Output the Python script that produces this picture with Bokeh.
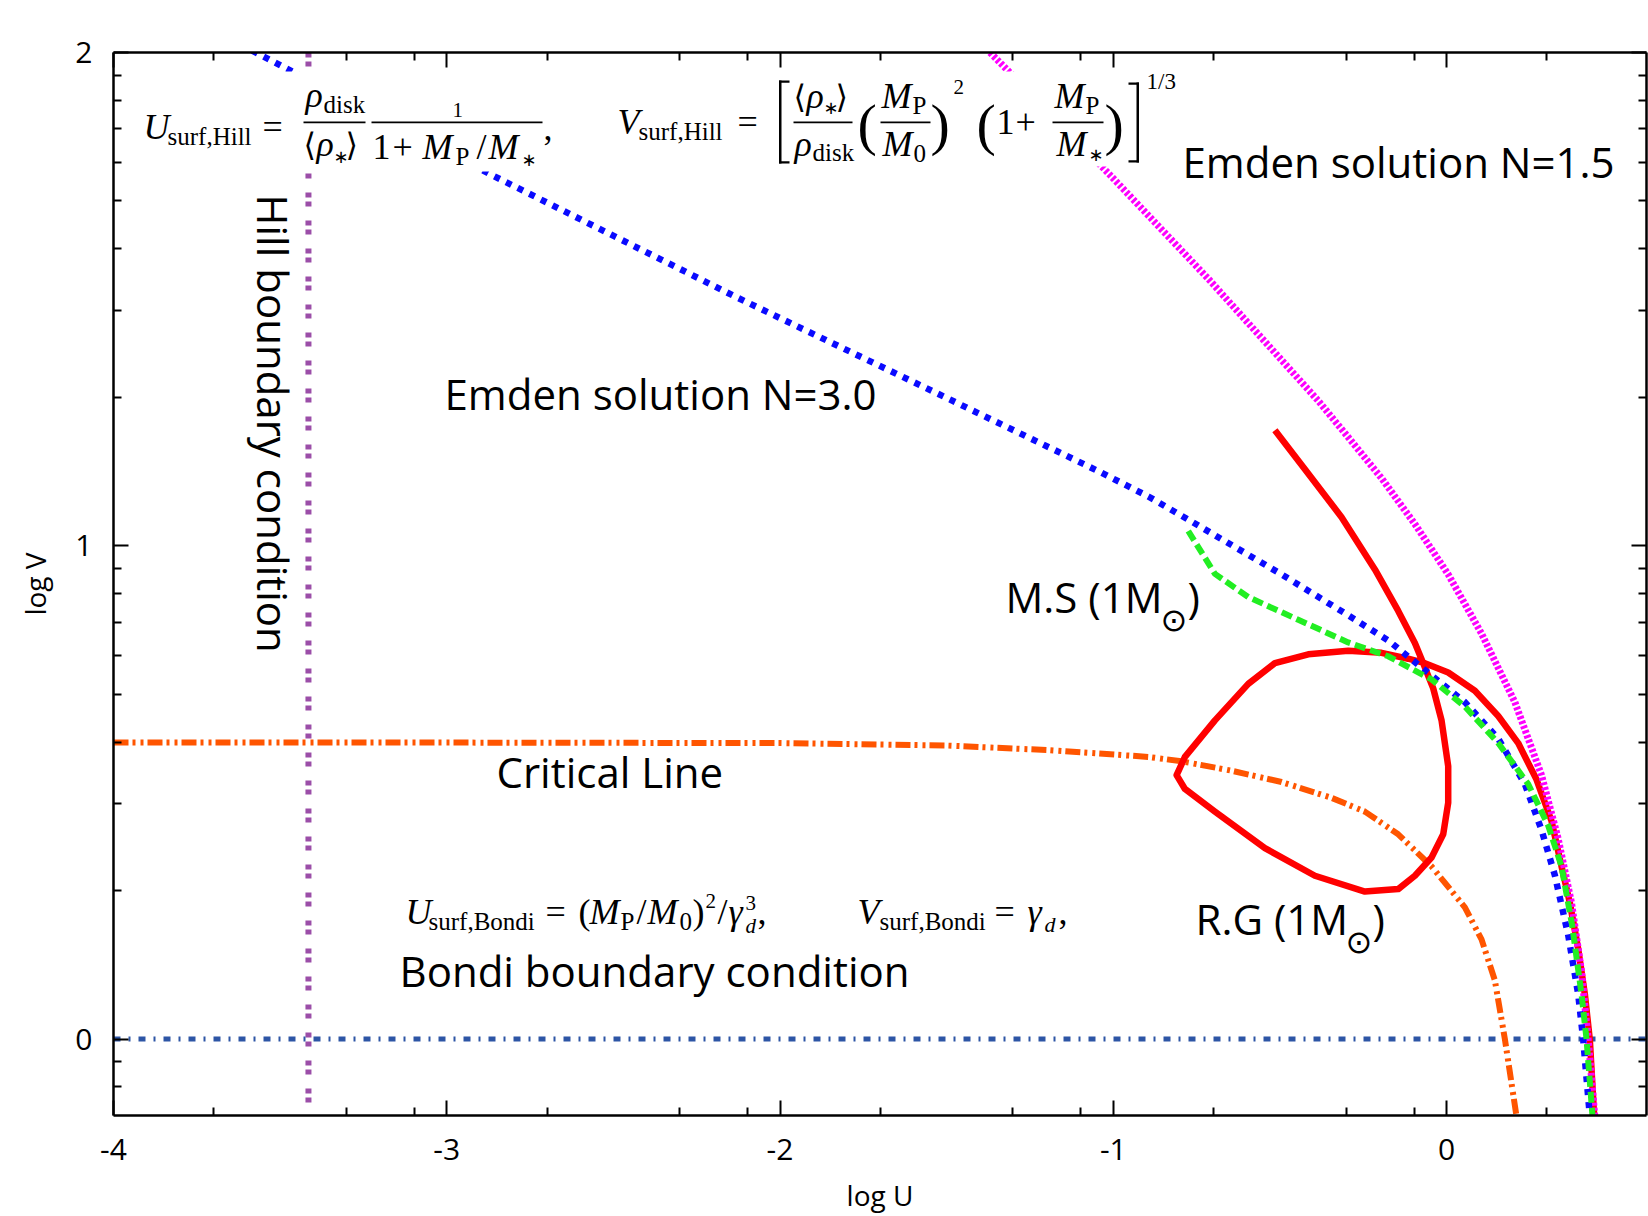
import math
from bokeh.plotting import figure
from bokeh.models import Range1d, FixedTicker, LinearAxis, Label, BoxAnnotation, Span
from bokeh.embed import file_html
from bokeh.resources import INLINE

# ---------------- data ----------------
x_ticks = [-4, -3, -2, -1, 0]
x_tick_labels = ["-4", "-3", "-2", "-1", "0"]
x_minor_ticks = [-3.699, -3.301, -3.097, -2.699, -2.301, -2.097, -1.699, -1.301, -1.097,
                 -0.699, -0.301, -0.097, 0.301]
y_ticks = [0, 1, 2]
y_tick_labels = ["0", "1", "2"]
y_minor_ticks = [-0.097, -0.046, 0.301, 0.477, 0.602, 0.699, 0.778, 0.845, 0.903, 0.954,
                 1.301, 1.477, 1.602, 1.699, 1.778, 1.845, 1.903, 1.954]

X_MIN, X_MAX = -4.0, 0.6
Y_MIN, Y_MAX = -0.155, 2.0

emden3_logU = [-3.584, -2.875, -2.134, -1.504, -1.041, -0.895, -0.775, -0.495, -0.295, -0.175,
               -0.065, 0.055, 0.155, 0.235, 0.285, 0.325, 0.365, 0.395, 0.410, 0.430]
emden3_logV = [2.004, 1.755, 1.505, 1.301, 1.150, 1.100, 1.053, 0.942, 0.859, 0.808,
               0.748, 0.683, 0.609, 0.517, 0.424, 0.332, 0.211, 0.091, 0.000, -0.157]

emden15_logU = [-1.370, -1.188, -0.999, -0.716, -0.385, -0.295, -0.195, -0.095, 0.005, 0.105,
                0.205, 0.285, 0.335, 0.375, 0.405, 0.425, 0.445]
emden15_logV = [2.000, 1.876, 1.744, 1.542, 1.294, 1.220, 1.137, 1.044, 0.942, 0.822,
                0.683, 0.535, 0.406, 0.276, 0.137, 0.000, -0.157]

ms_logU = [-0.775, -0.695, -0.595, -0.445, -0.295, -0.175, -0.045, 0.055, 0.155, 0.245,
           0.305, 0.345, 0.377, 0.405, 0.420, 0.438]
ms_logV = [1.030, 0.943, 0.896, 0.850, 0.804, 0.776, 0.729, 0.674, 0.600, 0.517,
           0.433, 0.350, 0.230, 0.091, 0.000, -0.157]

rg_logU = [-0.515, -0.425, -0.315, -0.215, -0.145, -0.095, -0.070, -0.040, -0.015, 0.005,
           0.005, -0.010, -0.045, -0.095, -0.145, -0.245, -0.395, -0.545, -0.695, -0.785,
           -0.810, -0.785, -0.695, -0.595, -0.515, -0.415, -0.295, -0.195, -0.115, -0.065,
           0.005, 0.085, 0.155, 0.215, 0.270, 0.315, 0.345, 0.370, 0.395, 0.415,
           0.430, 0.443]
rg_logV = [1.234, 1.155, 1.058, 0.952, 0.868, 0.803, 0.762, 0.711, 0.646, 0.553,
           0.479, 0.415, 0.368, 0.331, 0.304, 0.299, 0.331, 0.387, 0.461, 0.507,
           0.535, 0.572, 0.646, 0.720, 0.762, 0.780, 0.787, 0.783, 0.771, 0.762,
           0.743, 0.706, 0.655, 0.600, 0.526, 0.442, 0.350, 0.276, 0.183, 0.091,
           -0.002, -0.157]

critical_logU = [-4.0, -3.0, -2.0, -1.5, -1.2, -0.895, -0.795, -0.645, -0.495, -0.345,
                 -0.245, -0.145, -0.045, 0.055, 0.105, 0.145, 0.175, 0.210]
critical_logV = [0.601, 0.601, 0.600, 0.595, 0.586, 0.572, 0.563, 0.544, 0.521, 0.489,
                 0.461, 0.415, 0.350, 0.267, 0.202, 0.119, 0.000, -0.157]

hill_logU = -3.415
bondi_logV = 0.0

# ---------------- figure ----------------
FL, FT, FW, FH = 113, 52, 1533, 1063

p = figure(width=1648, height=1216, x_range=Range1d(X_MIN, X_MAX), y_range=Range1d(Y_MIN, Y_MAX),
           output_backend="svg", toolbar_location=None,
           min_border_left=FL, min_border_right=2, min_border_top=FT, min_border_bottom=101)
p.xgrid.visible = False
p.ygrid.visible = False
p.outline_line_color = None
p.background_fill_color = "white"
p.border_fill_color = "white"

TICK_FONT = "Open Sans"
xt = FixedTicker(ticks=x_ticks, minor_ticks=x_minor_ticks)
yt = FixedTicker(ticks=y_ticks, minor_ticks=y_minor_ticks)


def style_axis(ax):
    ax.axis_line_width = 2.5
    ax.axis_line_color = "black"
    ax.major_tick_in = 15
    ax.major_tick_out = 0
    ax.minor_tick_in = 8
    ax.minor_tick_out = 0
    ax.major_tick_line_width = 2
    ax.minor_tick_line_width = 2
    ax.major_tick_line_color = "black"
    ax.minor_tick_line_color = "black"
    ax.major_label_text_font = TICK_FONT
    ax.major_label_text_font_size = "30px"
    ax.major_label_text_color = "black"
    ax.axis_label_text_font = TICK_FONT
    ax.axis_label_text_font_size = "28px"
    ax.axis_label_text_font_style = "normal"
    ax.axis_label_text_color = "black"


xa = p.xaxis[0]
xa.ticker = xt
style_axis(xa)
xa.major_label_overrides = dict(zip(x_ticks, x_tick_labels))
xa.axis_label = "log U"
xa.major_label_standoff = 23
xa.axis_label_standoff = 13

ya = p.yaxis[0]
ya.ticker = yt
style_axis(ya)
ya.major_label_overrides = dict(zip(y_ticks, y_tick_labels))
ya.axis_label = "log V"
ya.major_label_standoff = 21
ya.axis_label_standoff = 18

top = LinearAxis(ticker=xt)
style_axis(top)
top.major_label_text_font_size = "1px"
top.major_label_text_color = None
top.major_label_standoff = 0
p.add_layout(top, "above")

right = LinearAxis(ticker=yt)
style_axis(right)
right.major_label_text_font_size = "1px"
right.major_label_text_color = None
right.major_label_standoff = 0
p.add_layout(right, "right")

# boundary lines
p.add_layout(Span(location=hill_logU, dimension="height", line_color="#9b4ea8", line_width=6,
                  line_dash="5 4 5 14", level="underlay"))
p.add_layout(Span(location=bondi_logV, dimension="width", line_color="#2d55a5", line_width=5,
                  line_dash="7 8 2 8", level="underlay"))

# curves
p.line(critical_logU, critical_logV, line_color="#ff5500", line_width=6, line_dash="15 4 3 5 3 4")
p.line(rg_logU, rg_logV, line_color="#ff0000", line_width=6.5, line_join="round")
p.line(emden15_logU, emden15_logV, line_color="#ff00ff", line_width=7, line_dash="3 2")
p.line(emden3_logU, emden3_logV, line_color="#0a0aff", line_width=6.5, line_dash="6 7")
p.line(ms_logU, ms_logV, line_color="#22ee22", line_width=6, line_dash="11 5")


# ---------------- annotations ----------------
def dx(X):
    return X_MIN + (X - FL) / FW * (X_MAX - X_MIN)


def dy(Y):
    return Y_MAX - (Y - FT) / FH * (Y_MAX - Y_MIN)


def box(x0, y0, x1, y1, color="black"):
    p.add_layout(BoxAnnotation(left=dx(x0), right=dx(x1), top=dy(y0), bottom=dy(y1),
                               fill_color=color, fill_alpha=1.0, line_color=None))


SERIF = "Liberation Serif"
SANS = "Open Sans"
SYM = "DejaVu Sans"
K = {SANS: 0.43, SERIF: 0.34, SYM: 0.35}  # baseline correction (fraction of font size)


def put(text, X, Y, size, font=SERIF, style="normal", angle=0.0):
    yy = Y - K[font] * size if angle == 0.0 else Y
    p.add_layout(Label(x=dx(X), y=dy(yy), text=text, text_font=font, text_font_size=f"{size}px",
                       text_font_style=style, text_align="left", text_baseline="alphabetic",
                       angle=angle, text_color="black"))


M, S, T = 36, 25, 21
IT = "italic"
PAR = 58

# white backgrounds for the formulas
box(135, 71, 556, 171, "white")
box(605, 71, 1192, 166, "white")

# --- U_surf,Hill ---
put("U", 143, 139, M, style=IT)
put("surf,Hill", 167, 144, S)
put("=", 262, 139, M)
box(303, 121, 365, 122.8)
put("ρ", 305, 107, M, style=IT)
put("disk", 323, 112, S)
put("⟨", 303, 156, 32, font=SYM)
put("ρ", 316, 156, M, style=IT)
put("∗", 333, 162, 18, font=SYM)
put("⟩", 345, 156, 32, font=SYM)
box(371, 121, 542, 122.8)
put("1", 452, 117, T)
put("1", 372, 159, M)
put("+", 392, 159, M)
put("M", 422, 159, M, style=IT)
put("P", 455, 164, S)
put("/", 476, 159, M)
put("M", 488, 159, M, style=IT)
put("∗", 521, 165, 18, font=SYM)
put(",", 543, 140, M)

# --- V_surf,Hill ---
put("V", 617, 134, M, style=IT)
put("surf,Hill", 638, 139, S)
put("=", 737, 134, M)
box(778.5, 80, 781, 163)
box(778.5, 80, 789, 82.2)
box(778.5, 160.8, 789, 163)
box(793, 121, 852, 122.8)
put("⟨", 793, 108, 32, font=SYM)
put("ρ", 806, 108, M, style=IT)
put("∗", 823, 113, 18, font=SYM)
put("⟩", 835, 108, 32, font=SYM)
put("ρ", 794, 156, M, style=IT)
put("disk", 812, 160, S)
put("(", 857, 144, PAR)
box(880, 121, 930, 122.8)
put("M", 881, 108, M, style=IT)
put("P", 912, 113, S)
put("M", 882, 156, M, style=IT)
put("0", 913, 161, S)
put(")", 930, 144, PAR)
put("2", 953, 94, T)
put("(", 976, 144, PAR)
put("1", 996, 134, M)
put("+", 1015, 134, M)
box(1052, 121, 1103, 122.8)
put("M", 1054, 108, M, style=IT)
put("P", 1085, 113, S)
put("M", 1056, 156, M, style=IT)
put("∗", 1088, 160, 18, font=SYM)
put(")", 1104, 144, PAR)
box(1136, 82, 1138.5, 162)
box(1128, 82, 1138.5, 84.2)
box(1128, 159.8, 1138.5, 162)
put("1/3", 1146, 89, 23)

# --- Bondi formulas ---
put("U", 405, 924, M, style=IT)
put("surf,Bondi", 428, 929, S)
put("=", 545, 924, M)
put("(", 578, 924, M)
put("M", 589, 924, M, style=IT)
put("P", 620, 929, S)
put("/", 636, 924, M)
put("M", 647, 924, M, style=IT)
put("0", 679, 929, S)
put(")", 692, 924, M)
put("2", 705, 908, T)
put("/", 717, 924, M)
put("γ", 728, 924, M, style=IT)
put("3", 745, 910, T)
put("d", 745, 933, T, style=IT)
put(",", 757, 924, M)
put("V", 857, 924, M, style=IT)
put("surf,Bondi", 879, 929, S)
put("=", 994, 924, M)
put("γ", 1027, 924, M, style=IT)
put("d", 1044, 931, 22, style=IT)
put(",", 1058, 924, M)

# --- sans labels ---
L = 42
put("Emden solution N=1.5", 1182, 179, L, font=SANS)
put("Emden solution N=3.0", 444, 411, L, font=SANS)
put("Critical Line", 496, 789, L, font=SANS)
put("Bondi boundary condition", 399, 988, L, font=SANS)
put("Hill boundary condition", 273, 194, L, font=SANS, angle=-math.pi / 2)
put("M.S (1M", 1005, 614, L, font=SANS)
put("⊙", 1160, 631, 32, font=SYM)
put(")", 1187, 614, L, font=SANS)
put("R.G (1M", 1195, 936, L, font=SANS)
put("⊙", 1345, 953, 32, font=SYM)
put(")", 1372, 936, L, font=SANS)

open("out.html", "w").write(file_html(p, INLINE))
